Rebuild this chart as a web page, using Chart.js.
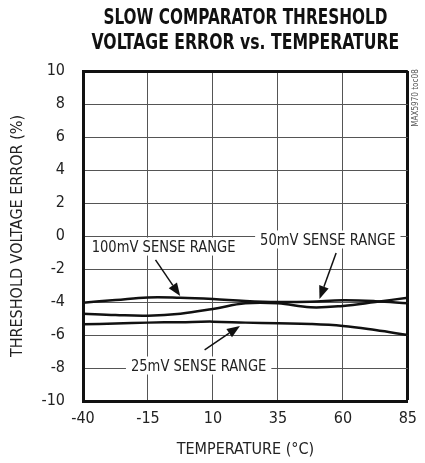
<!DOCTYPE html>
<html>
<head>
<meta charset="utf-8">
<script src="https://cdn.jsdelivr.net/npm/chart.js@4.4.1/dist/chart.umd.min.js"></script>
<style>
  html, body { margin: 0; padding: 0; background: #fff; }
  #wrap { width: 425px; height: 463px; }
</style>
</head>
<body>
<div id="wrap"><canvas id="chart" width="425" height="463"></canvas></div>
<script>
// --- DATA ---
const temps = [-40, -27.5, -15, -2.5, 10, 22.5, 35, 47.5, 60, 72.5, 85];
const err100mV = [-4.04, -3.88, -3.72, -3.74, -3.82, -3.94, -4.0, -3.98, -3.9, -3.95, -4.08];
const err50mV = [-4.71, -4.79, -4.83, -4.71, -4.42, -4.08, -4.08, -4.32, -4.24, -4.0, -3.74];
const err25mV = [-5.35, -5.31, -5.25, -5.22, -5.19, -5.25, -5.29, -5.33, -5.45, -5.7, -6.0];

const xTicks = [-40, -15, 10, 35, 60, 85];
const yTicks = [-10, -8, -6, -4, -2, 0, 2, 4, 6, 8, 10];

const titleLines = ['SLOW COMPARATOR THRESHOLD', 'VOLTAGE ERROR vs. TEMPERATURE'];

// callouts: label position and arrow (from -> tip), in data units
const callouts = [
    { text: '100mV SENSE RANGE', at: [-9, -0.64], from: [-12.1, -1.45], tip: [-2.6, -3.64] },
    { text: '50mV SENSE RANGE', at: [54.2, -0.21], from: [57.4, -1.03], tip: [51, -3.82] },
    { text: '25mV SENSE RANGE', at: [4.5, -7.85], from: [6.8, -6.9], tip: [20.4, -5.45] }
];

const FONT = "'DejaVu Sans Condensed', 'Liberation Sans', Arial, sans-serif";

function toPoints(ys) { return temps.map((t, i) => ({ x: t, y: ys[i] })); }

function lineSet(label, ys) {
    return {
        label: label,
        data: toPoints(ys),
        borderColor: '#111',
        borderWidth: 2.5,
        pointRadius: 0,
        tension: 0.4,
        fill: false
    };
}

// text squeezed horizontally to look like the narrow face of the original
function narrowText(ctx, text, x, y, squeeze) {
    ctx.save();
    ctx.translate(x, y);
    ctx.scale(squeeze, 1);
    ctx.fillText(text, 0, 0);
    ctx.restore();
}

// --- PLUGINS ---
const calloutPlugin = {
    id: 'callouts',
    beforeDatasetsDraw(chart) {
        const { ctx, scales: { x, y } } = chart;
        const sq = 0.91;
        ctx.save();
        ctx.font = '16px ' + FONT;
        ctx.textAlign = 'center';
        ctx.textBaseline = 'middle';
        callouts.forEach(c => {
            const cx = x.getPixelForValue(c.at[0]);
            const cy = y.getPixelForValue(c.at[1]);
            const w = ctx.measureText(c.text).width * sq;
            ctx.fillStyle = '#fff';
            ctx.fillRect(cx - w / 2 - 5, cy - 9, w + 10, 18);
            ctx.fillStyle = '#222';
            narrowText(ctx, c.text, cx, cy + 1, sq);

            // arrow
            const x1 = x.getPixelForValue(c.from[0]), y1 = y.getPixelForValue(c.from[1]);
            const x2 = x.getPixelForValue(c.tip[0]), y2 = y.getPixelForValue(c.tip[1]);
            const ang = Math.atan2(y2 - y1, x2 - x1);
            const head = 13, half = 5;
            const bx = x2 - head * Math.cos(ang), by = y2 - head * Math.sin(ang);
            ctx.strokeStyle = '#111';
            ctx.lineWidth = 1.5;
            ctx.beginPath();
            ctx.moveTo(x1, y1);
            ctx.lineTo(bx, by);
            ctx.stroke();
            ctx.fillStyle = '#111';
            ctx.beginPath();
            ctx.moveTo(x2, y2);
            ctx.lineTo(bx + half * Math.sin(ang), by - half * Math.cos(ang));
            ctx.lineTo(bx - half * Math.sin(ang), by + half * Math.cos(ang));
            ctx.closePath();
            ctx.fill();
        });
        ctx.restore();
    },
    afterDraw(chart) {
        const { ctx, chartArea } = chart;
        // title, centred over the plot
        ctx.save();
        ctx.font = 'bold 21px ' + FONT;
        ctx.fillStyle = '#111';
        ctx.textAlign = 'center';
        ctx.textBaseline = 'middle';
        const mid = (chartArea.left + chartArea.right) / 2;
        narrowText(ctx, titleLines[0], mid, 19, 0.81);
        narrowText(ctx, titleLines[1], mid, 44, 0.83);
        ctx.restore();

        // small figure tag at the right edge
        ctx.save();
        ctx.translate(chartArea.right + 8, chartArea.top + 27);
        ctx.rotate(-Math.PI / 2);
        ctx.font = '9px ' + FONT;
        ctx.fillStyle = '#555';
        ctx.textAlign = 'center';
        ctx.textBaseline = 'middle';
        narrowText(ctx, 'MAX5970 toc08', 0, 0, 0.9);
        ctx.restore();
    }
};

// --- CHART ---
const edgeWidth = (max) => (c) => (c.tick && c.tick.value === max ? 3 : 1);
const edgeColor = (max) => (c) => (c.tick && c.tick.value === max ? '#111' : '#555');

new Chart(document.getElementById('chart'), {
    type: 'line',
    data: {
        datasets: [
            lineSet('100mV SENSE RANGE', err100mV),
            lineSet('50mV SENSE RANGE', err50mV),
            lineSet('25mV SENSE RANGE', err25mV)
        ]
    },
    options: {
        responsive: false,
        animation: false,
        layout: { padding: { left: 0, right: 11, top: 71, bottom: 0 } },
        plugins: {
            legend: { display: false },
            tooltip: { enabled: false },
            title: { display: false }
        },
        scales: {
            x: {
                type: 'linear',
                min: -40,
                max: 85,
                afterBuildTicks: (s) => { s.ticks = xTicks.map(v => ({ value: v })); },
                afterFit: (s) => { s.height = 62; },
                ticks: { color: '#222', font: { family: FONT, size: 16 }, padding: 8, maxRotation: 0 },
                grid: { drawTicks: false, color: edgeColor(85), lineWidth: edgeWidth(85) },
                border: { display: true, color: '#111', width: 3 },
                title: {
                    display: true,
                    text: 'TEMPERATURE (°C)',
                    color: '#222',
                    font: { family: FONT, size: 16 },
                    padding: { top: 0, bottom: 4 }
                }
            },
            y: {
                min: -10,
                max: 10,
                afterBuildTicks: (s) => { s.ticks = yTicks.map(v => ({ value: v })); },
                afterFit: (s) => { s.width = 83; },
                ticks: { color: '#222', font: { family: FONT, size: 16 }, padding: 18 },
                grid: { drawTicks: false, color: edgeColor(10), lineWidth: edgeWidth(10) },
                border: { display: true, color: '#111', width: 3 },
                title: {
                    display: true,
                    text: 'THRESHOLD VOLTAGE ERROR (%)',
                    color: '#222',
                    font: { family: FONT, size: 16 },
                    padding: { top: 8, bottom: 0 }
                }
            }
        }
    },
    plugins: [calloutPlugin]
});
</script>
</body>
</html>
